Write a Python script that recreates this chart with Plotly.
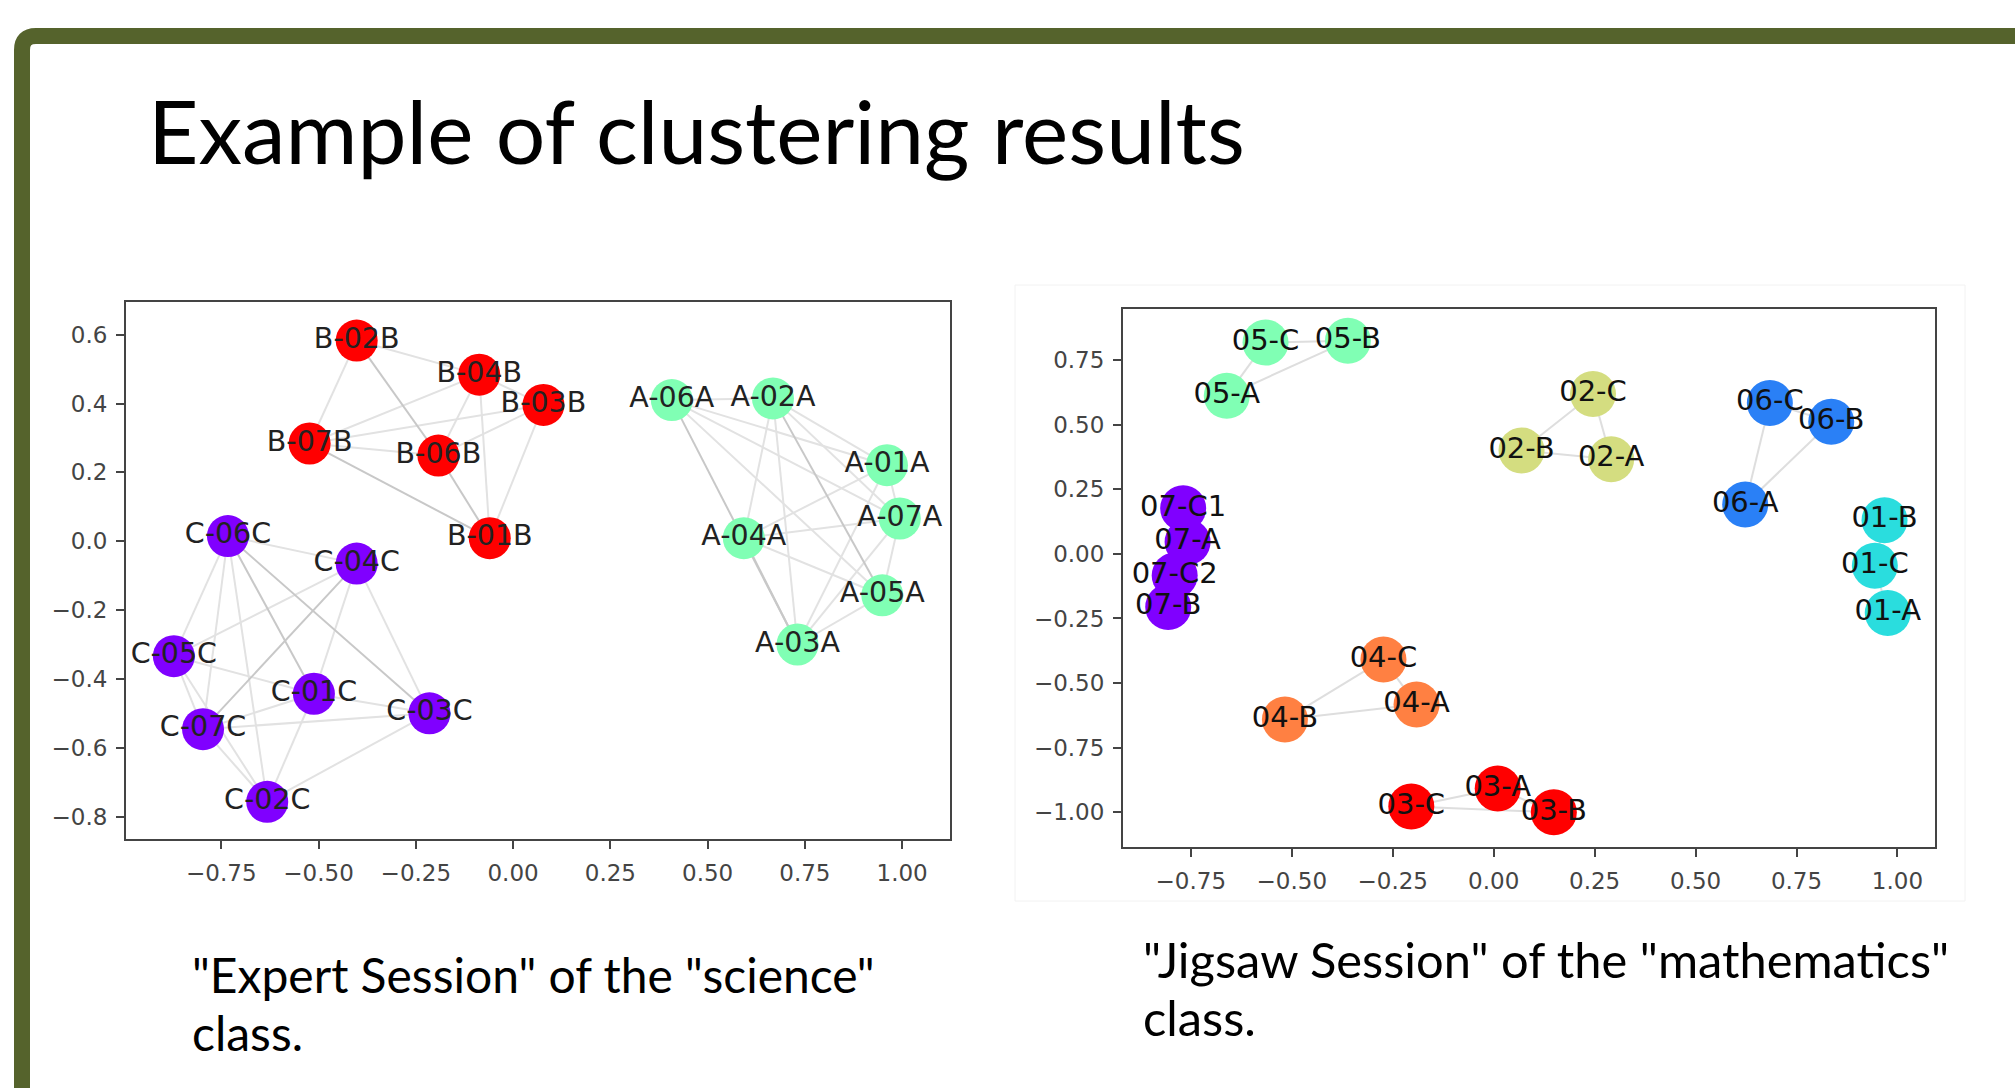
import plotly.graph_objects as go

W, H = 2015, 1088

# ---------------- Data: left graph ("Expert Session", science) ----------------
left_names = ["B-02B", "B-04B", "B-03B", "B-07B", "B-06B", "B-01B",
              "A-06A", "A-02A", "A-01A", "A-07A", "A-04A", "A-05A", "A-03A",
              "C-06C", "C-04C", "C-05C", "C-01C", "C-03C", "C-07C", "C-02C"]
left_x = [-0.402, -0.087, 0.078, -0.523, -0.192, -0.060,
          0.408, 0.668, 0.961, 0.994, 0.593, 0.949, 0.731,
          -0.733, -0.402, -0.872, -0.512, -0.215, -0.797, -0.632]
left_y = [0.583, 0.484, 0.396, 0.284, 0.249, 0.009,
          0.410, 0.415, 0.221, 0.066, 0.009, -0.157, -0.300,
          0.015, -0.065, -0.334, -0.443, -0.500, -0.546, -0.757]
left_group = ["B"] * 6 + ["A"] * 7 + ["C"] * 7
left_colors = {"A": "#80ffb4", "B": "#ff0000", "C": "#8000ff"}

left_edges_dark = [("B-02B", "B-06B"), ("B-06B", "B-01B"), ("B-07B", "B-01B"),
                   ("A-06A", "A-03A"), ("A-04A", "A-03A"), ("A-02A", "A-05A"),
                   ("C-06C", "C-01C"), ("C-06C", "C-03C"), ("C-04C", "C-07C")]
left_edges_light = [("B-02B", "B-04B"), ("B-02B", "B-07B"), ("B-04B", "B-07B"),
                    ("B-04B", "B-06B"), ("B-04B", "B-01B"), ("B-04B", "B-03B"),
                    ("B-03B", "B-07B"), ("B-03B", "B-06B"), ("B-03B", "B-01B"),
                    ("B-07B", "B-06B"),
                    ("A-06A", "A-02A"), ("A-06A", "A-01A"), ("A-06A", "A-05A"),
                    ("A-06A", "A-07A"), ("A-02A", "A-01A"), ("A-02A", "A-04A"),
                    ("A-02A", "A-03A"), ("A-02A", "A-07A"), ("A-04A", "A-01A"),
                    ("A-04A", "A-07A"), ("A-04A", "A-05A"), ("A-03A", "A-01A"),
                    ("A-03A", "A-07A"), ("A-03A", "A-05A"), ("A-05A", "A-07A"),
                    ("A-01A", "A-07A"),
                    ("C-06C", "C-04C"), ("C-06C", "C-05C"), ("C-06C", "C-07C"),
                    ("C-06C", "C-02C"), ("C-04C", "C-05C"), ("C-04C", "C-01C"),
                    ("C-04C", "C-03C"), ("C-05C", "C-01C"), ("C-05C", "C-07C"),
                    ("C-05C", "C-02C"), ("C-01C", "C-03C"), ("C-01C", "C-07C"),
                    ("C-01C", "C-02C"), ("C-03C", "C-07C"), ("C-03C", "C-02C"),
                    ("C-07C", "C-02C")]

left_xticks = [-0.75, -0.50, -0.25, 0.00, 0.25, 0.50, 0.75, 1.00]
left_xtick_text = ["\u22120.75", "\u22120.50", "\u22120.25", "0.00", "0.25", "0.50", "0.75", "1.00"]
left_yticks = [0.6, 0.4, 0.2, 0.0, -0.2, -0.4, -0.6, -0.8]
left_ytick_text = ["0.6", "0.4", "0.2", "0.0", "\u22120.2", "\u22120.4", "\u22120.6", "\u22120.8"]

# ---------------- Data: right graph ("Jigsaw Session", mathematics) ----------------
right_names = ["05-C", "05-B", "05-A", "02-C", "02-B", "02-A",
               "06-C", "06-B", "06-A", "01-B", "01-C", "01-A",
               "07-C1", "07-A", "07-C2", "07-B",
               "04-C", "04-A", "04-B", "03-C", "03-A", "03-B"]
right_x = [-0.565, -0.361, -0.661, 0.246, 0.069, 0.291,
           0.684, 0.836, 0.623, 0.968, 0.944, 0.976,
           -0.769, -0.758, -0.790, -0.806,
           -0.273, -0.191, -0.517, -0.204, 0.010, 0.149]
right_y = [0.817, 0.824, 0.611, 0.618, 0.400, 0.366,
           0.583, 0.511, 0.191, 0.130, -0.046, -0.229,
           0.176, 0.046, -0.084, -0.206,
           -0.409, -0.583, -0.641, -0.977, -0.908, -1.000]
right_group = ["05"] * 3 + ["02"] * 3 + ["06"] * 3 + ["01"] * 3 + ["07"] * 4 + ["04"] * 3 + ["03"] * 3
right_colors = {"07": "#8000ff", "06": "#2a80f6", "01": "#2addde", "05": "#80ffb4",
                "02": "#d4dd80", "04": "#ff8042", "03": "#ff0000"}
right_edges = [("05-C", "05-B"), ("05-C", "05-A"), ("05-A", "05-B"),
               ("02-C", "02-B"), ("02-C", "02-A"), ("02-B", "02-A"),
               ("06-C", "06-A"), ("06-B", "06-A"), ("06-C", "06-B"),
               ("01-B", "01-C"), ("01-C", "01-A"),
               ("07-C1", "07-A"), ("07-A", "07-C2"), ("07-C2", "07-B"),
               ("04-C", "04-B"), ("04-C", "04-A"), ("04-B", "04-A"),
               ("03-C", "03-A"), ("03-C", "03-B"), ("03-A", "03-B")]

right_xticks = [-0.75, -0.50, -0.25, 0.00, 0.25, 0.50, 0.75, 1.00]
right_xtick_text = ["\u22120.75", "\u22120.50", "\u22120.25", "0.00", "0.25", "0.50", "0.75", "1.00"]
right_yticks = [0.75, 0.50, 0.25, 0.00, -0.25, -0.50, -0.75, -1.00]
right_ytick_text = ["0.75", "0.50", "0.25", "0.00", "\u22120.25", "\u22120.50", "\u22120.75", "\u22121.00"]

title_text = "Example of clustering results"
left_caption = ['"Expert Session" of the "science"', "class."]
right_caption = ['"Jigsaw Session" of the "mathematics"', "class."]


# ---------------- helpers ----------------
def px(x):
    return x / W


def py(y):
    return 1 - y / H


def edge_xy(edges, names, xs, ys):
    idx = {n: i for i, n in enumerate(names)}
    ex, ey = [], []
    for a, b in edges:
        ex += [xs[idx[a]], xs[idx[b]], None]
        ey += [ys[idx[a]], ys[idx[b]], None]
    return ex, ey


fig = go.Figure()

# left edges
ex, ey = edge_xy(left_edges_light, left_names, left_x, left_y)
fig.add_trace(go.Scatter(x=ex, y=ey, mode="lines", line=dict(color="#e2e2e2", width=2),
                         hoverinfo="skip", showlegend=False, xaxis="x", yaxis="y"))
ex, ey = edge_xy(left_edges_dark, left_names, left_x, left_y)
fig.add_trace(go.Scatter(x=ex, y=ey, mode="lines", line=dict(color="#c8c8c8", width=2),
                         hoverinfo="skip", showlegend=False, xaxis="x", yaxis="y"))
# left nodes
fig.add_trace(go.Scatter(
    x=left_x, y=left_y, mode="markers+text", text=left_names, textposition="middle center",
    marker=dict(size=42, color=[left_colors[g] for g in left_group], line=dict(width=0)),
    textfont=dict(family="DejaVu Sans", size=28.5, color="#222222"),
    showlegend=False, xaxis="x", yaxis="y"))

# right edges
ex, ey = edge_xy(right_edges, right_names, right_x, right_y)
fig.add_trace(go.Scatter(x=ex, y=ey, mode="lines", line=dict(color="#dedede", width=2),
                         hoverinfo="skip", showlegend=False, xaxis="x2", yaxis="y2"))
# right nodes
fig.add_trace(go.Scatter(
    x=right_x, y=right_y, mode="markers+text", text=right_names, textposition="middle center",
    marker=dict(size=46, color=[right_colors[g] for g in right_group], line=dict(width=0)),
    textfont=dict(family="DejaVu Sans", size=29, color="#111111"),
    showlegend=False, xaxis="x2", yaxis="y2"))

axis_common = dict(showgrid=False, zeroline=False, showline=True, mirror=True,
                   linecolor="#444444", linewidth=2, ticks="outside", ticklen=8,
                   tickwidth=2, tickcolor="#444444", automargin=False,
                   tickfont=dict(family="DejaVu Sans", size=23, color="#444444"),
                   tickmode="array", ticklabelstandoff=4)

fig.update_layout(
    width=W, height=H,
    margin=dict(l=0, r=0, t=0, b=0, pad=0),
    paper_bgcolor="white", plot_bgcolor="white",
    template="none",
    xaxis=dict(domain=[px(126), px(950)], range=[-0.995, 1.123], anchor="y",
               tickvals=left_xticks, ticktext=left_xtick_text, **axis_common),
    yaxis=dict(domain=[py(839), py(302)], range=[-0.865, 0.695], anchor="x",
               tickvals=left_yticks, ticktext=left_ytick_text, **axis_common),
    xaxis2=dict(domain=[px(1123), px(1935)], range=[-0.918, 1.093], anchor="y2",
                tickvals=right_xticks, ticktext=right_xtick_text, **axis_common),
    yaxis2=dict(domain=[py(847), py(309)], range=[-1.134, 0.947], anchor="x2",
                tickvals=right_yticks, ticktext=right_ytick_text, **axis_common),
)

# green slide frame (rounded top-left corner)
x0, y0 = px(22), py(36)
r_x, r_y = px(14), 14 / H
frame_path = (f"M {x0},{py(1100)} L {x0},{y0 - r_y} Q {x0},{y0} {x0 + r_x},{y0} "
              f"L {px(2030)},{y0}")
fig.add_shape(type="path", path=frame_path, xref="paper", yref="paper",
              line=dict(color="#55632c", width=16), layer="above")

# faint border of the right picture
fig.add_shape(type="rect", xref="paper", yref="paper",
              x0=px(1015), x1=px(1965), y0=py(901), y1=py(285),
              line=dict(color="#f2f2f2", width=1), layer="below")

# title
fig.add_annotation(text=title_text, xref="paper", yref="paper", x=px(146), y=py(130),
                   xanchor="left", yanchor="middle", showarrow=False,
                   font=dict(family="Lato", size=87.5, color="black"))

# captions
for i, line in enumerate(left_caption):
    fig.add_annotation(text=line, xref="paper", yref="paper", x=px(190), y=py(974 + 58 * i),
                       xanchor="left", yanchor="middle", showarrow=False,
                       font=dict(family="Lato", size=48, color="black"))
for i, line in enumerate(right_caption):
    fig.add_annotation(text=line, xref="paper", yref="paper", x=px(1141), y=py(959 + 58 * i),
                       xanchor="left", yanchor="middle", showarrow=False,
                       font=dict(family="Lato", size=48.8, color="black"))

fig.write_html("out.html", config={"displayModeBar": False},
               post_script="document.body.style.margin='0';")
